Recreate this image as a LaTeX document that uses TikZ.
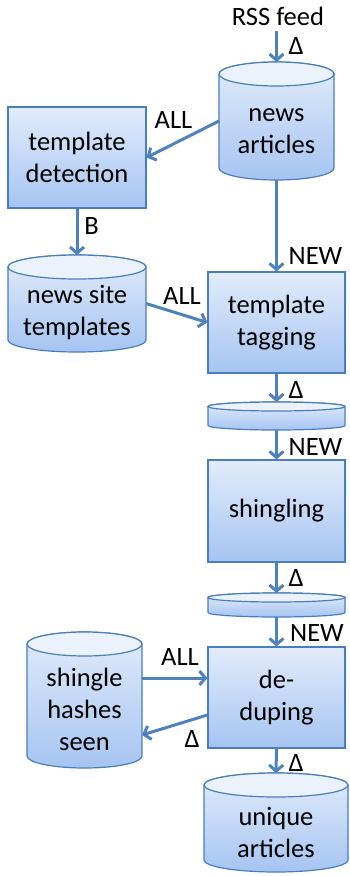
\documentclass[tikz,border=0pt]{standalone}
\usepackage{fontspec}
\setmainfont{Carlito}
\usetikzlibrary{arrows.meta}
\definecolor{bord}{HTML}{4A7EBB}
\definecolor{arr}{HTML}{4F81BD}
\definecolor{ftop}{HTML}{E2ECFB}
\definecolor{fbot}{HTML}{A6C4F2}
% cx, ytop, ybot, rx, ry  (y values as positive pixel offsets)
\newcommand\dbshape[5]{%
  \path[top color=ftop,bottom color=fbot,draw=bord,line width=1.2pt]
    (#1-#4,-#2-#5) -- (#1-#4,-#3+#5)
    arc[start angle=180,end angle=360,x radius=#4pt,y radius=#5pt]
    -- (#1+#4,-#2-#5)
    arc[start angle=0,end angle=180,x radius=#4pt,y radius=#5pt] -- cycle;
  \path[fill=ftop!70!white,draw=bord,line width=1.2pt] (#1,-#2-#5) ellipse[x radius=#4pt,y radius=#5pt];
}
\tikzset{
  box/.style={draw=bord,line width=1.2pt,top color=ftop,bottom color=fbot,
    inner sep=0pt,align=center,font=\fontsize{26.5}{32}\selectfont},
  dbarea/.style={inner sep=0pt,outer sep=0pt},
  dbtext/.style={inner sep=0pt,align=center,font=\fontsize{26.5}{32}\selectfont},
  lbl/.style={inner sep=0pt,font=\fontsize{26.5}{30}\selectfont},
  flow/.style={draw=arr,line width=3pt,-{Straight Barb[length=6pt,width=14pt]}},
}
\begin{document}
\begin{tikzpicture}[x=1pt,y=1pt]
\useasboundingbox (0,0) rectangle (349,-876);

% cylinders
\dbshape{276.5}{62}{180}{57.5}{12}
\node[dbarea,minimum width=115pt,minimum height=118pt] (na) at (276.5,-121) {};
\node[dbtext] (nat) at (276.5,-131) {news\\articles};

\dbshape{77}{255}{352}{69}{12}
\node[dbarea,minimum width=138pt,minimum height=97pt] (nst) at (77,-303.5) {};
\node[dbtext] (nstt) at (77,-313) {news site\\templates};

\dbshape{276.5}{402}{430}{68.5}{4.5}
\node[dbarea,minimum width=137pt,minimum height=28pt] (f1) at (276.5,-416) {};

\dbshape{276.5}{593}{617}{68.5}{4.5}
\node[dbarea,minimum width=137pt,minimum height=24pt] (f2) at (276.5,-605) {};

\dbshape{84.5}{632}{768}{57.5}{12}
\node[dbarea,minimum width=115pt,minimum height=136pt] (shs) at (84.5,-700) {};
\node[dbtext] (shst) at (84.5,-709) {shingle\\hashes\\seen};

\dbshape{276}{773}{872}{72}{12}
\node[dbarea,minimum width=144pt,minimum height=99pt] (ua) at (276,-822.5) {};
\node[dbtext] (uat) at (276,-832) {unique\\articles};

% boxes
\node[box,minimum width=138pt,minimum height=101pt] (td) at (77,-157.5) {template\\detection};
\node[box,minimum width=137pt,minimum height=101pt] (tt) at (276.5,-322.5) {template\\tagging};
\node[box,minimum width=137pt,minimum height=102pt] (sh) at (276.5,-511) {shingling};
\node[box,minimum width=137pt,minimum height=101pt] (dd) at (276.5,-697.5) {de-\\duping};

% source
\node[lbl] (rss) at (278,-16) {RSS feed};
\coordinate (rssend) at (276.5,-31);

% connectors
\draw[flow] (rssend) -- (na.north);
\draw[flow] (na.west) -- (td.east);
\draw[flow] (td.south) -- (nst.north);
\draw[flow] (na.south) -- (tt.north);
\draw[flow] (nst.east) -- (tt.west);
\draw[flow] (tt.south) -- (f1.north);
\draw[flow] (f1.south) -- (sh.north);
\draw[flow] (sh.south) -- (f2.north);
\draw[flow] (f2.south) -- (dd.north);
\draw[flow] ([yshift=22pt]shs.east) -- ([yshift=19.5pt]dd.west);
\draw[flow] ([yshift=-17.5pt]dd.west) -- ([yshift=-35pt]shs.east);
\draw[flow] (dd.south) -- (ua.north);

% labels
\node[lbl] (l1) at (296,-46) {Δ};
\node[lbl] (l2) at (173.5,-120) {ALL};
\node[lbl] (l3) at (91.5,-226) {B};
\node[lbl] (l4) at (315.5,-256) {NEW};
\node[lbl] (l5) at (182,-296) {ALL};
\node[lbl] (l6) at (296,-390) {Δ};
\node[lbl] (l7) at (315.5,-447) {NEW};
\node[lbl] (l8) at (296,-578) {Δ};
\node[lbl] (l9) at (317,-633) {NEW};
\node[lbl] (l10) at (180,-657) {ALL};
\node[lbl] (l11) at (192,-739) {Δ};
\node[lbl] (l12) at (296,-763) {Δ};
\end{tikzpicture}
\end{document}
